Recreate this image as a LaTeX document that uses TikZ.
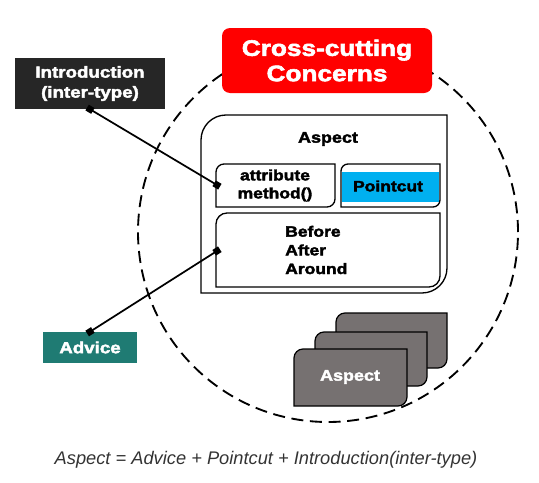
\documentclass[tikz,border=0pt]{standalone}
\usepackage{fontspec}
\setmainfont{Liberation Sans}
\newfontfamily\heavy{Liberation Sans Bold}[FakeBold=2.5,FakeStretch=1.17]
\usetikzlibrary{arrows.meta}
\definecolor{introfill}{HTML}{262626}
\definecolor{advfill}{HTML}{1F7B73}
\definecolor{pcblue}{HTML}{00B0F0}
\definecolor{cardgray}{HTML}{767171}
\definecolor{captgray}{HTML}{333333}
% top-left and bottom-right rounded box: #1 style, #2 x1, #3 y1 (top), #4 x2, #5 y2 (bottom), #6 radius
\newcommand\tlbrbox[6]{%
  \draw[#1] (#2,-#5) -- (#2,-#3-#6) arc[start angle=180,end angle=90,radius=#6]
    -- (#4,-#3) -- (#4,-#5+#6) arc[start angle=0,end angle=-90,radius=#6] -- cycle;}
\tikzset{
  lbl/.style={font=\heavy\fontsize{11.2pt}{13.5pt}\selectfont, align=center, inner sep=0pt},
  linkline/.style={line width=1.3pt, {Square[length=5pt,width=5pt]}-{Square[length=5pt,width=5pt]}, shorten <=-2.5pt, shorten >=-2.5pt},
  boxline/.style={line width=1pt, draw=black},
}
\begin{document}
\begin{tikzpicture}[x=0.75pt,y=0.75pt]
\useasboundingbox (0,0) rectangle (539,-482);
% dashed circle
\draw[line width=1.4pt, dash pattern=on 9pt off 5pt] (328,-232) circle[radius=190];
% title
\node[fill=red, rounded corners=6pt, minimum width=157.5pt, minimum height=48.75pt,
  text=white, align=center, font=\heavy\fontsize{16.8pt}{19pt}\selectfont, inner sep=0pt]
  (title) at (327,-60.5) {Cross-cutting\\Concerns};
% outer aspect box
\tlbrbox{boxline, fill=white}{201}{115}{447}{293}{25}
\node[lbl, font=\heavy\fontsize{11.5pt}{13.5pt}\selectfont] (aspect) at (328,-139) {Aspect};
% attribute box
\tlbrbox{boxline}{216}{164}{335}{207}{8}
\node[lbl] (attr) at (275,-185.5) {attribute\\method()};
\coordinate (attrL) at (217,-185);
% pointcut box
\fill[pcblue] (342,-172) rectangle (439,-202);
\tlbrbox{boxline}{341}{164}{440}{207}{7}
\node[lbl] (pointcut) at (388,-186) {Pointcut};
% before box
\tlbrbox{boxline}{216}{213}{440}{287}{11}
\node[lbl, align=left, anchor=west, font=\heavy\fontsize{11.2pt}{14pt}\selectfont] (advtypes) at (285,-250) {Before\\After\\Around};
\coordinate (beforeL) at (217,-251);
% stacked aspects
\tlbrbox{boxline, line width=0.9pt, fill=cardgray}{336}{313}{447}{368}{9}
\tlbrbox{boxline, line width=0.9pt, fill=cardgray}{315}{332}{427}{386}{9}
\tlbrbox{boxline, line width=0.9pt, fill=cardgray}{294}{349}{407}{406}{9}
\node[lbl, text=white, font=\heavy\fontsize{11.5pt}{13.5pt}\selectfont] (card) at (350,-377) {Aspect};
% introduction
\node[fill=introfill, text=white, minimum width=112.5pt, minimum height=38.25pt, inner sep=0pt,
  align=center, font=\heavy\fontsize{12pt}{15pt}\selectfont] (intro) at (90,-83.5) {Introduction\\(inter-type)};
% advice
\node[fill=advfill, text=white, minimum width=70.5pt, minimum height=23.25pt, inner sep=0pt,
  font=\heavy\fontsize{12pt}{14pt}\selectfont] (advice) at (90,-347.5) {Advice};
% connectors
\draw[linkline] (intro.south) -- (attrL);
\draw[linkline] (advice.north) -- (beforeL);
% caption
\node[text=captgray, font=\itshape\fontsize{13.7pt}{16pt}\selectfont, inner sep=0pt] (caption) at (266,-460) {Aspect = Advice + Pointcut + Introduction(inter-type)};
\end{tikzpicture}
\end{document}
